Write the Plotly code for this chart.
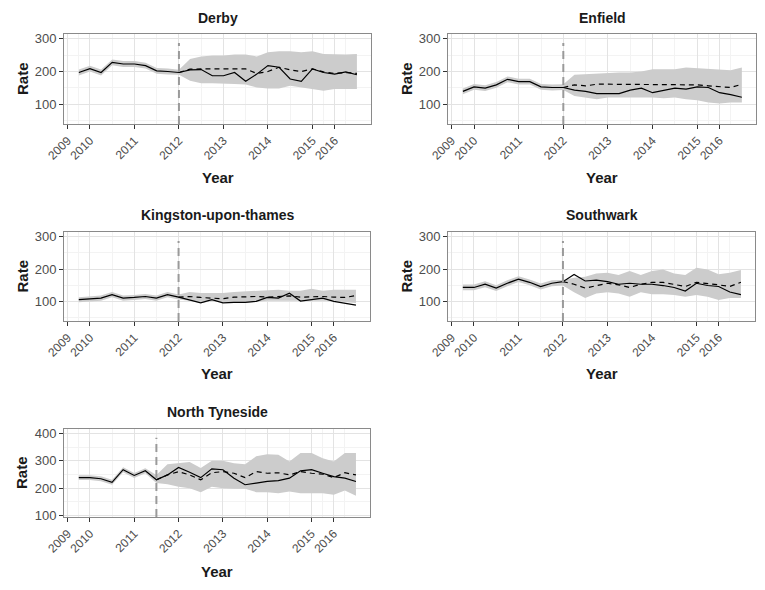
import plotly.graph_objects as go

# ---------------- data ----------------
MONTHS = [3, 6, 9, 12, 15, 18, 21, 24, 27, 30, 33, 36, 39, 42, 45, 48, 51, 54, 57, 60, 63, 66, 69, 72, 75, 78]
TICK_POS = [0, 6, 18, 30, 42, 54, 66, 72]
TICK_LABELS = ["2009", "2010", "2011", "2012", "2013", "2014", "2015", "2016"]
MINOR_POS = [3, 12, 24, 36, 48, 60, 69, 75]

AREAS = ["Derby", "Enfield", "Kingston-upon-thames", "Southwark", "North Tyneside"]
INTERVENTION = {"Derby": 30, "Enfield": 30, "Kingston-upon-thames": 30, "Southwark": 30, "North Tyneside": 24}

derby_obs = [197, 209, 197, 228, 223, 223, 218, 202, 200, 197, 205, 206, 187, 187, 197, 170, 192, 218, 213, 177, 170, 208, 197, 192, 199, 190]
derby_cf = [197, 207, 208, 208, 208, 208, 208, 194, 200, 213, 205, 200, 208, 199, 194, 197, 194]
derby_lo = [188, 200, 188, 219, 214, 214, 209, 193, 191, 190, 172, 164, 164, 164, 162, 160, 151, 148, 148, 156, 151, 146, 141, 146, 146, 146]
derby_hi = [206, 218, 206, 237, 232, 232, 227, 211, 209, 205, 238, 246, 249, 249, 252, 252, 246, 259, 262, 262, 259, 262, 254, 252, 252, 254]

enfield_obs = [139, 153, 149, 159, 176, 169, 169, 153, 151, 151, 143, 139, 132, 132, 132, 143, 149, 135, 143, 149, 146, 153, 151, 135, 129, 121]
enfield_cf = [151, 159, 156, 161, 161, 161, 159, 159, 161, 161, 161, 161, 159, 156, 153, 151, 161]
enfield_lo = [130, 144, 140, 150, 167, 160, 160, 144, 142, 143, 125, 120, 115, 120, 120, 120, 122, 120, 118, 120, 115, 112, 105, 102, 105, 105]
enfield_hi = [148, 162, 158, 168, 185, 178, 178, 162, 160, 161, 190, 192, 194, 197, 197, 197, 200, 207, 207, 207, 212, 210, 207, 207, 204, 212]

kingston_obs = [105, 108, 110, 121, 110, 112, 115, 110, 121, 113, 105, 95, 105, 95, 97, 97, 100, 112, 110, 125, 101, 105, 110, 100, 95, 88]
kingston_cf = [113, 115, 112, 110, 108, 113, 115, 115, 113, 115, 117, 113, 115, 115, 113, 112, 118]
kingston_lo = [97, 100, 102, 113, 102, 104, 107, 102, 113, 106, 102, 95, 100, 98, 95, 95, 98, 102, 102, 102, 100, 100, 102, 102, 98, 95]
kingston_hi = [113, 116, 118, 129, 118, 120, 123, 118, 129, 121, 129, 126, 126, 126, 129, 131, 131, 133, 136, 133, 133, 139, 133, 136, 136, 136]

southwark_obs = [143, 143, 153, 141, 156, 169, 159, 146, 156, 161, 183, 163, 166, 161, 153, 156, 153, 153, 149, 143, 132, 156, 149, 146, 129, 121]
southwark_cf = [161, 153, 141, 149, 156, 151, 143, 153, 159, 159, 153, 146, 159, 156, 151, 146, 159]
southwark_lo = [134, 134, 144, 132, 147, 160, 150, 137, 147, 149, 128, 110, 124, 128, 124, 114, 128, 122, 122, 120, 114, 120, 114, 104, 110, 110]
southwark_hi = [152, 152, 162, 150, 165, 178, 168, 155, 165, 166, 173, 176, 186, 189, 182, 194, 182, 194, 199, 186, 182, 204, 199, 184, 189, 197]

nt_obs = [238, 238, 234, 221, 267, 246, 263, 230, 248, 275, 258, 238, 270, 267, 236, 212, 218, 224, 227, 236, 263, 267, 254, 242, 236, 224]
nt_cf = [230, 248, 260, 248, 230, 256, 260, 254, 238, 260, 254, 256, 248, 260, 254, 251, 238, 256, 248]
nt_lo = [229, 229, 225, 212, 258, 237, 254, 218, 214, 205, 199, 185, 205, 199, 197, 197, 185, 185, 181, 187, 181, 181, 181, 175, 191, 172]
nt_hi = [247, 247, 243, 230, 276, 255, 272, 248, 287, 291, 295, 273, 300, 300, 291, 287, 316, 324, 322, 297, 328, 328, 309, 297, 328, 328]

SERIES = {
    "Derby": (derby_obs, derby_cf, derby_lo, derby_hi),
    "Enfield": (enfield_obs, enfield_cf, enfield_lo, enfield_hi),
    "Kingston-upon-thames": (kingston_obs, kingston_cf, kingston_lo, kingston_hi),
    "Southwark": (southwark_obs, southwark_cf, southwark_lo, southwark_hi),
    "North Tyneside": (nt_obs, nt_cf, nt_lo, nt_hi),
}
Y_TICKS = {"Derby": [100, 200, 300], "Enfield": [100, 200, 300], "Kingston-upon-thames": [100, 200, 300],
           "Southwark": [100, 200, 300], "North Tyneside": [100, 200, 300, 400]}
Y_MINOR = {"Derby": [50, 150, 250], "Enfield": [50, 150, 250], "Kingston-upon-thames": [50, 150, 250],
           "Southwark": [50, 150, 250], "North Tyneside": [150, 250, 350]}
Y_RANGE = {"Derby": [39, 315], "Enfield": [39, 315], "Kingston-upon-thames": [39, 315],
           "Southwark": [39, 315], "North Tyneside": [94, 416]}

# ---------------- layout geometry (pixels) ----------------
W, H = 765, 590
PANELS = {  # x0, x1, ytop, ybottom in px
    "Derby": (64, 371, 34, 124),
    "Enfield": (448, 756, 34, 124),
    "Kingston-upon-thames": (64, 370, 232, 321),
    "Southwark": (448, 755, 232, 321),
    "North Tyneside": (64, 370, 429, 517),
}
TITLE_Y = {"Derby": 18, "Enfield": 18, "Kingston-upon-thames": 215, "Southwark": 215, "North Tyneside": 412}
YEAR_Y = {"Derby": 177, "Enfield": 177, "Kingston-upon-thames": 373, "Southwark": 373, "North Tyneside": 571}

FONT = "Liberation Sans, Arial, sans-serif"
fig = go.Figure()
layout = dict(width=W, height=H, margin=dict(l=0, r=0, t=0, b=0, autoexpand=False),
              paper_bgcolor="white", plot_bgcolor="white", showlegend=False,
              font=dict(family=FONT, color="#333333"))
annotations = []
shapes = []

for i, area in enumerate(AREAS, start=1):
    obs, cf, lo, hi = SERIES[area]
    t0 = INTERVENTION[area]
    k = MONTHS.index(t0)
    xs = "x" if i == 1 else f"x{i}"
    ys = "y" if i == 1 else f"y{i}"
    # ribbon
    fig.add_trace(go.Scatter(x=MONTHS, y=hi, mode="lines", line=dict(width=0, color="#cccccc"),
                             hoverinfo="skip", xaxis=xs, yaxis=ys))
    fig.add_trace(go.Scatter(x=MONTHS, y=lo, mode="lines", line=dict(width=0, color="#cccccc"),
                             fill="tonexty", fillcolor="#cccccc", hoverinfo="skip", xaxis=xs, yaxis=ys))
    # counterfactual (dashed)
    fig.add_trace(go.Scatter(x=MONTHS[k:], y=cf, mode="lines",
                             line=dict(color="black", width=1.2, dash="5px,4px"), xaxis=xs, yaxis=ys))
    # observed
    fig.add_trace(go.Scatter(x=MONTHS, y=obs, mode="lines",
                             line=dict(color="black", width=1.2), xaxis=xs, yaxis=ys))

    x0, x1, yt, yb = PANELS[area]
    xd = [x0 / W, x1 / W]
    yd = [1 - yb / H, 1 - yt / H]
    axname_x = "xaxis" if i == 1 else f"xaxis{i}"
    axname_y = "yaxis" if i == 1 else f"yaxis{i}"
    layout[axname_x] = dict(
        domain=xd, anchor=ys, range=[-1, 81.8], automargin=False,
        tickmode="array", tickvals=TICK_POS, ticktext=TICK_LABELS, tickangle=-45,
        tickfont=dict(size=12, color="#4d4d4d", family=FONT),
        ticks="outside", ticklen=4, tickcolor="#333333",
        showgrid=True, gridcolor="#e3e3e3", gridwidth=1,
        minor=dict(tickmode="array", tickvals=MINOR_POS, showgrid=True, gridcolor="#f3f3f3", ticks=""),
        showline=True, linecolor="#8a8a8a", linewidth=1, mirror=True, zeroline=False,
    )
    layout[axname_y] = dict(
        domain=yd, anchor=xs, range=Y_RANGE[area], automargin=False,
        tickmode="array", tickvals=Y_TICKS[area],
        tickfont=dict(size=13, color="#4d4d4d", family=FONT),
        ticks="outside", ticklen=4, tickcolor="#333333",
        showgrid=True, gridcolor="#e3e3e3", gridwidth=1,
        minor=dict(tickmode="array", tickvals=Y_MINOR[area], showgrid=True, gridcolor="#f3f3f3", ticks=""),
        showline=True, linecolor="#8a8a8a", linewidth=1, mirror=True, zeroline=False,
    )
    # intervention line
    shapes.append(dict(type="line", xref=xs, yref=f"{ys} domain", x0=t0, x1=t0, y0=0, y1=0.9,
                       line=dict(color="#9a9a9a", width=2, dash="8px,5px")))
    cx = (x0 + x1) / 2 / W
    annotations.append(dict(text=f"<b>{area}</b>", x=cx, y=1 - TITLE_Y[area] / H, xref="paper", yref="paper",
                            showarrow=False, xanchor="center", yanchor="middle",
                            font=dict(size=14, color="#1a1a1a", family=FONT)))
    annotations.append(dict(text="<b>Year</b>", x=cx, y=1 - YEAR_Y[area] / H, xref="paper", yref="paper",
                            showarrow=False, xanchor="center", yanchor="middle",
                            font=dict(size=15, color="#1a1a1a", family=FONT)))
    rate_x = (x0 - 42) / W
    annotations.append(dict(text="<b>Rate</b>", x=rate_x, y=(yd[0] + yd[1]) / 2, xref="paper", yref="paper",
                            showarrow=False, xanchor="center", yanchor="middle", textangle=-90,
                            font=dict(size=15, color="#1a1a1a", family=FONT)))

layout["annotations"] = annotations
layout["shapes"] = shapes
fig.update_layout(**layout)
fig.write_html("out.html", config={"displayModeBar": False},
               post_script="document.body.style.margin='0';document.body.style.overflow='hidden';")
